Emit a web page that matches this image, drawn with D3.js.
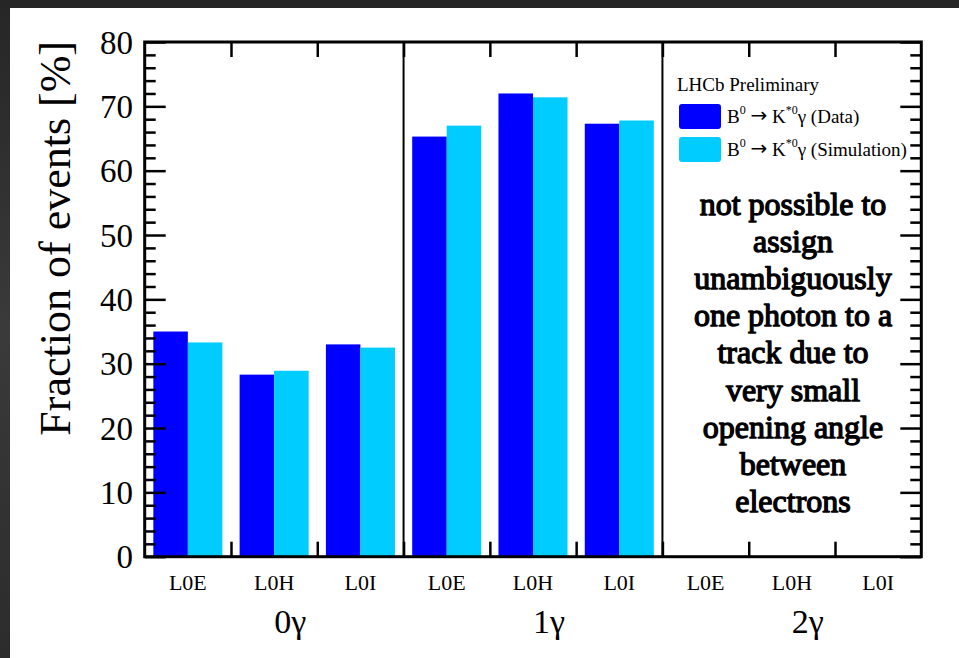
<!DOCTYPE html>
<html>
<head>
<meta charset="utf-8">
<script src="https://cdn.jsdelivr.net/npm/d3@7"></script>
<style>
html,body{margin:0;padding:0;background:#2a2a2a;}
svg{display:block;}
</style>
</head>
<body>
<svg id="chart" width="959" height="658"></svg>
<script>
// ---- data ----
const groups = ["0γ", "1γ", "2γ"];
const triggers = ["L0E", "L0H", "L0I"];
const dataValues = [35.0, 28.3, 33.0, 65.3, 72.0, 67.3, 0, 0, 0];
const simValues  = [33.3, 28.9, 32.5, 67.0, 71.4, 67.8, 0, 0, 0];
const yTicks = [0, 10, 20, 30, 40, 50, 60, 70, 80];
const seriesNames = ["(Data)", "(Simulation)"];
const seriesColors = ["#0000ff", "#00ccff"];
const noteLines = ["not possible to", "assign", "unambiguously", "one photon to a",
  "track due to", "very small", "opening angle", "between", "electrons"];

const svg = d3.select("#chart");
const W = 959, H = 658;

// background frame (dark textured look)
const defs = svg.append("defs");
const grad = defs.append("linearGradient").attr("id", "bg").attr("x1", 0).attr("y1", 0).attr("x2", 0).attr("y2", 1);
grad.append("stop").attr("offset", "0%").attr("stop-color", "#262626");
grad.append("stop").attr("offset", "50%").attr("stop-color", "#3a3a3a");
grad.append("stop").attr("offset", "100%").attr("stop-color", "#2c2c2c");
svg.append("rect").attr("width", W).attr("height", H).attr("fill", "url(#bg)");
svg.append("rect").attr("x", 10).attr("y", 8).attr("width", W - 10).attr("height", H - 8).attr("fill", "#ffffff");

const L = 144.7, R = 921.3, T = 42, B = 556.7;
const nBins = groups.length * triggers.length;
const x = d3.scaleLinear().domain([0, nBins]).range([L, R]);
const y = d3.scaleLinear().domain([0, 80]).range([B, T]);

const font = "'Liberation Serif'";

// bars
const bins = d3.range(nBins);
const barG = svg.append("g");
barG.selectAll("rect.data").data(bins).join("rect")
  .attr("x", i => x(i + 0.1)).attr("width", i => x(i + 0.5) - x(i + 0.1))
  .attr("y", i => y(dataValues[i])).attr("height", i => y(0) - y(dataValues[i]))
  .attr("fill", seriesColors[0]);
barG.selectAll("rect.sim").data(bins).join("rect")
  .attr("x", i => x(i + 0.5)).attr("width", i => x(i + 0.9) - x(i + 0.5))
  .attr("y", i => y(simValues[i])).attr("height", i => y(0) - y(simValues[i]))
  .attr("fill", seriesColors[1]);

// group separators
svg.selectAll("line.sep").data(d3.range(1, groups.length)).join("line")
  .attr("x1", g => x(g * triggers.length)).attr("x2", g => x(g * triggers.length))
  .attr("y1", T).attr("y2", B).attr("stroke", "#000").attr("stroke-width", 2);

// y axes (left and right, ticks inside)
const minorTicks = d3.range(0, 81, 2).filter(v => v % 10 !== 0);
const leftMajor = d3.axisRight(y).tickValues(yTicks).tickSize(21).tickFormat("");
const leftMinor = d3.axisRight(y).tickValues(minorTicks).tickSize(11).tickFormat("");
const rightMajor = d3.axisLeft(y).tickValues(yTicks).tickSize(21).tickFormat("");
const rightMinor = d3.axisLeft(y).tickValues(minorTicks).tickSize(11).tickFormat("");
function styleAxis(g) {
  g.select(".domain").remove();
  g.selectAll(".tick line").attr("stroke", "#000").attr("stroke-width", 2.5);
}
svg.append("g").attr("transform", `translate(${L},0)`).call(leftMajor).call(styleAxis);
svg.append("g").attr("transform", `translate(${L},0)`).call(leftMinor).call(styleAxis);
svg.append("g").attr("transform", `translate(${R},0)`).call(rightMajor).call(styleAxis);
svg.append("g").attr("transform", `translate(${R},0)`).call(rightMinor).call(styleAxis);

// x bin-edge ticks (bottom up, top down)
const edges = d3.range(1, nBins);
const xBottom = d3.axisTop(x).tickValues(edges).tickSize(15).tickFormat("");
const xTop = d3.axisBottom(x).tickValues(edges).tickSize(15).tickFormat("");
svg.append("g").attr("transform", `translate(0,${B})`).call(xBottom).call(styleAxis);
svg.append("g").attr("transform", `translate(0,${T})`).call(xTop).call(styleAxis);

// frame
svg.append("rect").attr("x", L).attr("y", T).attr("width", R - L).attr("height", B - T)
  .attr("fill", "none").attr("stroke", "#000").attr("stroke-width", 3);

// y tick labels
svg.selectAll("text.ytl").data(yTicks).join("text")
  .attr("x", 133).attr("y", v => y(v)).attr("dy", "0.35em")
  .attr("text-anchor", "end").attr("font-family", font).attr("font-size", 33)
  .attr("fill", "#000").text(v => v);

// y title
svg.append("text")
  .attr("transform", `translate(70,41) rotate(-90)`)
  .attr("text-anchor", "end").attr("font-family", font).attr("font-size", 44)
  .attr("fill", "#000").text("Fraction of events [%]");

// bin labels
svg.selectAll("text.bl").data(bins).join("text")
  .attr("x", i => x(i + 0.5)).attr("y", 590)
  .attr("text-anchor", "middle").attr("font-family", font).attr("font-size", 22)
  .attr("fill", "#000").text(i => triggers[i % triggers.length]);

// group labels
svg.selectAll("text.gl").data(groups).join("text")
  .attr("x", (g, k) => x(k * triggers.length + triggers.length / 2)).attr("y", 633)
  .attr("text-anchor", "start").attr("font-family", font).attr("font-size", 34)
  .attr("fill", "#000").text(g => g);

// legend
svg.append("text").attr("x", 677).attr("y", 90.5).attr("font-family", font).attr("font-size", 19)
  .attr("fill", "#000").text("LHCb Preliminary");
const leg = svg.selectAll("g.leg").data(seriesNames).join("g")
  .attr("transform", (d, k) => `translate(679,${104 + k * 33})`);
leg.append("rect").attr("width", 42).attr("height", 25).attr("rx", 3).attr("fill", (d, k) => seriesColors[k]);
const lt = leg.append("text").attr("x", 48).attr("y", 19).attr("font-family", font).attr("font-size", 19).attr("fill", "#000");
lt.append("tspan").text("B");
lt.append("tspan").attr("font-size", 12).attr("dy", -9).text("0");
lt.append("tspan").attr("dy", 9).text(" ");
lt.append("tspan").attr("font-family", "'DejaVu Sans'").attr("font-size", 20).attr("dy", -1).text("→");
lt.append("tspan").attr("dy", 1).text(" K");
lt.append("tspan").attr("font-size", 12).attr("dy", -9).text("*0");
lt.append("tspan").attr("dy", 9).text(d => "γ " + d);

// annotation (regular face emboldened with a stroke: no bold serif face installed)
svg.selectAll("text.note").data(noteLines).join("text")
  .attr("x", 793).attr("y", (d, k) => 215 + k * 37.1)
  .attr("text-anchor", "middle").attr("font-family", font)
  .attr("font-size", 32).attr("fill", "#000")
  .attr("stroke", "#000").attr("stroke-width", 1.3).attr("stroke-linejoin", "round")
  .text(d => d);
</script>
</body>
</html>
